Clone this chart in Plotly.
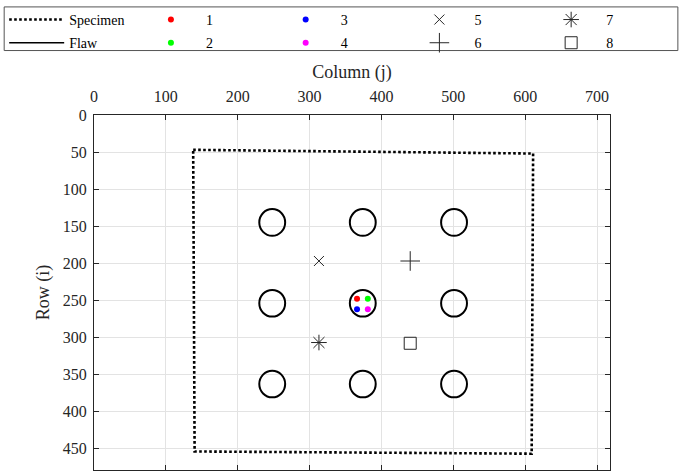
import plotly.graph_objects as go

# Specimen outline corners (column j, row i), closed polygon
specimen_j = [138, 611, 609, 140, 138]
specimen_i = [47, 52, 457, 454, 47]

# Flaw centres (3 x 3 grid) and radius, in pixels
flaw_j = [248, 374, 501, 248, 374, 501, 248, 374, 501]
flaw_i = [145, 145, 145, 254, 254, 254, 363, 363, 363]
flaw_r = 18

# Measurement points 1-8
pt_labels = ["1", "2", "3", "4", "5", "6", "7", "8"]
pt_j = [366, 381, 366, 381, 313, 440, 313, 440]
pt_i = [248, 248, 262, 262, 197, 197, 307, 308]
pt_symbols = ["circle", "circle", "circle", "circle",
              "x-thin-open", "cross-thin-open", "asterisk-open", "square-open"]
pt_colors = ["#ff0000", "#00ff00", "#0000ff", "#ff00ff",
             "#262626", "#262626", "#262626", "#262626"]
pt_sizes = [6, 6, 6, 6, 10, 14, 13, 12]

# Legend column for each entry: (Specimen, Flaw) | (1, 2) | (3, 4) | (5, 6) | (7, 8)
pt_legend = ["legend2", "legend2", "legend3", "legend3",
             "legend4", "legend4", "legend5", "legend5"]

FONT = "Liberation Serif, Times New Roman, serif"
INK = "#262626"

# plot-area geometry in pixels, used to place legend columns in paper units
W, H = 682, 474
ML, MR, MT, MB = 93, 72, 112, 4
PW, PH = W - ML - MR, H - MT - MB


def px_x(px):
    return (px - ML) / PW


def px_y(py):
    return 1 + (MT - py) / PH


fig = go.Figure()

fig.add_trace(go.Scatter(
    x=specimen_j, y=specimen_i, mode="lines", name="Specimen",
    line=dict(color="black", width=2.6, dash="2.6px,2.4px"),
    legend="legend", legendgroup="spec", hoverinfo="skip",
))

# Flaw outlines as circle shapes in data coordinates
for cj, ci in zip(flaw_j, flaw_i):
    fig.add_shape(
        type="circle", xref="x", yref="y",
        x0=cj - flaw_r, x1=cj + flaw_r, y0=ci - flaw_r, y1=ci + flaw_r,
        line=dict(color="black", width=2),
    )
# legend entry for the flaw outlines (solid line sample)
fig.add_trace(go.Scatter(
    x=[None], y=[None], mode="lines", name="Flaw",
    line=dict(color="black", width=1.6),
    legend="legend", legendgroup="flaw",
))

for lab, j, i, sym, col, sz, lg in zip(pt_labels, pt_j, pt_i, pt_symbols,
                                        pt_colors, pt_sizes, pt_legend):
    filled = sym == "circle"
    fig.add_trace(go.Scatter(
        x=[j], y=[i], mode="markers", name=lab,
        marker=dict(symbol=sym, color=col, size=sz,
                    line=dict(color=col, width=0 if filled else 1)),
        legend=lg, legendgroup="p" + lab,
    ))

axis_common = dict(
    showgrid=True, gridcolor="#e3e3e3", gridwidth=1,
    showline=True, linecolor=INK, linewidth=1, mirror="ticks",
    ticks="inside", ticklen=5, tickcolor=INK,
    zeroline=False, tickfont=dict(family=FONT, size=16, color=INK),
)

fig.update_xaxes(
    range=[0, 718], side="top", tick0=0, dtick=100, ticklabelstandoff=6,
    title=dict(text="Column (j)", font=dict(family=FONT, size=18, color=INK), standoff=4),
    **axis_common,
)
fig.update_yaxes(
    range=[479, 0], tick0=0, dtick=50, ticklabelstandoff=3,
    title=dict(text="Row (i)", font=dict(family=FONT, size=18, color=INK), standoff=8),
    **axis_common,
)

legend_style = dict(
    orientation="v", yanchor="top", xanchor="left", y=px_y(0),
    borderwidth=0, bgcolor="rgba(0,0,0,0)", tracegroupgap=2,
    font=dict(family=FONT, size=14, color="black"),
)
col_left = [3, 135, 270, 404, 536]
col_itemwidth = [55, 60, 60, 60, 60]

fig.update_layout(
    width=W, height=H,
    margin=dict(l=ML, r=MR, t=MT, b=MB),
    plot_bgcolor="white", paper_bgcolor="white",
    font=dict(family=FONT, size=14, color="black"),
    showlegend=True,
    shapes=list(fig.layout.shapes) + [dict(
        type="rect", xref="paper", yref="paper",
        x0=px_x(3), x1=px_x(678), y0=px_y(47), y1=px_y(3),
        line=dict(color="#555555", width=1), fillcolor="white", layer="below",
    )],
)
for k, (left, iw) in enumerate(zip(col_left, col_itemwidth)):
    name = "legend" if k == 0 else "legend%d" % (k + 1)
    fig.update_layout({name: dict(legend_style, x=px_x(left), itemwidth=iw)})

fig.write_html("out.html")
